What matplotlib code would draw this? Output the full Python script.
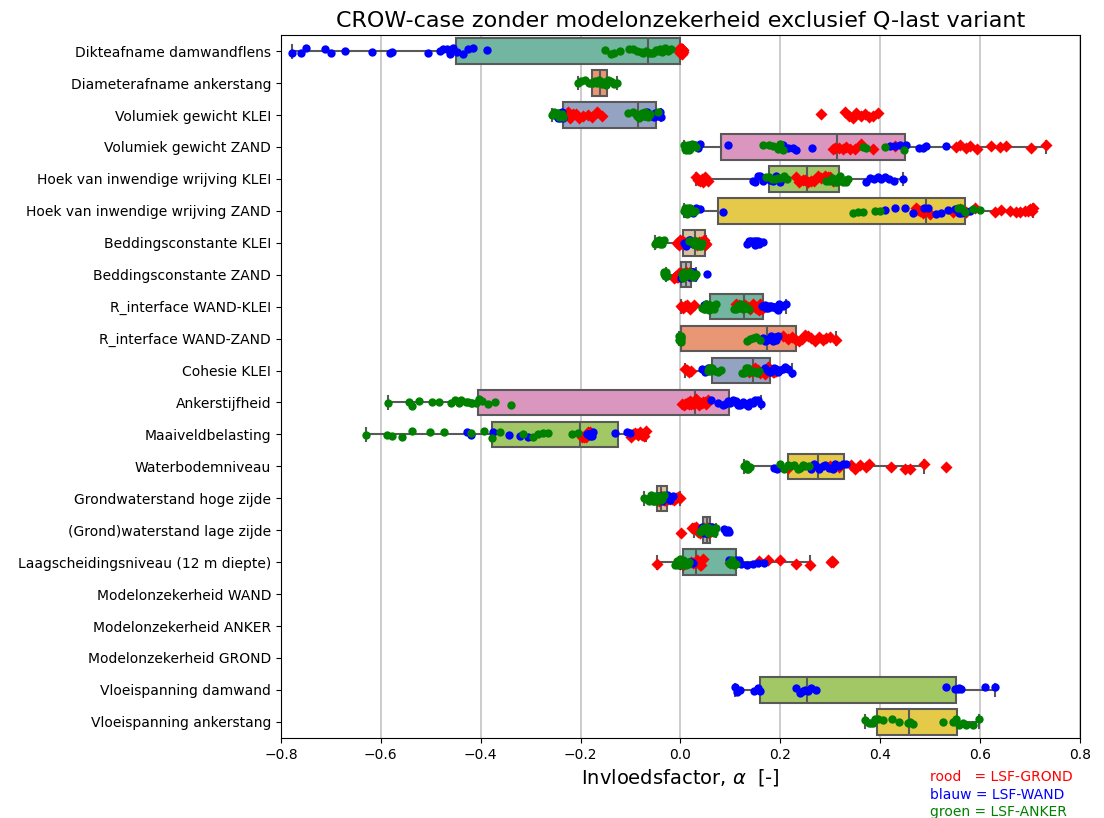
import colorsys

import numpy as np
import matplotlib
matplotlib.use("Agg")
import matplotlib.pyplot as plt
from matplotlib.colors import to_rgb

# parameters, top to bottom
parameters = [
    "Dikteafname damwandflens",
    "Diameterafname ankerstang",
    "Volumiek gewicht KLEI",
    "Volumiek gewicht ZAND",
    "Hoek van inwendige wrijving KLEI",
    "Hoek van inwendige wrijving ZAND",
    "Beddingsconstante KLEI",
    "Beddingsconstante ZAND",
    "R_interface WAND-KLEI",
    "R_interface WAND-ZAND",
    "Cohesie KLEI",
    "Ankerstijfheid",
    "Maaiveldbelasting",
    "Waterbodemniveau",
    "Grondwaterstand hoge zijde",
    "(Grond)waterstand lage zijde",
    "Laagscheidingsniveau (12 m diepte)",
    "Modelonzekerheid WAND",
    "Modelonzekerheid ANKER",
    "Modelonzekerheid GROND",
    "Vloeispanning damwand",
    "Vloeispanning ankerstang",
]

# influence factors per parameter for each limit state function
alpha_grond = [
    [0.0, 0.001, 0.0, 0.002, 0.003, 0.0, 0.001, 0.004, 0.002, 0.0, 0.005, 0.001, 0.003, 0.0, 0.002, 0.004, 0.001, 0.006, 0.0, 0.003],
    [],
    [-0.226, -0.222, -0.216, -0.210, -0.204, -0.196, -0.186, -0.178, -0.168, -0.158, 0.282, 0.330, 0.338, 0.346, 0.352, 0.362, 0.370, 0.378, 0.386, 0.395],
    [0.305, 0.310, 0.318, 0.325, 0.332, 0.340, 0.350, 0.362, 0.385, 0.430, 0.552, 0.560, 0.572, 0.580, 0.593, 0.622, 0.640, 0.652, 0.703, 0.733],
    [0.032, 0.036, 0.040, 0.043, 0.046, 0.050, 0.055, 0.232, 0.238, 0.245, 0.250, 0.255, 0.262, 0.268, 0.275, 0.282, 0.290, 0.296, 0.300, 0.305],
    [0.472, 0.476, 0.480, 0.485, 0.500, 0.545, 0.560, 0.565, 0.572, 0.590, 0.630, 0.642, 0.660, 0.672, 0.680, 0.690, 0.695, 0.700, 0.705, 0.707],
    [-0.006, -0.004, -0.002, 0.0, 0.0, 0.002, 0.004, 0.006, 0.008, 0.030, 0.034, 0.038, 0.042, 0.045, 0.046, 0.048, 0.048, 0.050, 0.050, 0.052],
    [-0.012, -0.010, -0.008, -0.006, -0.004, -0.002, 0.0, 0.0, 0.002, 0.004, 0.006, 0.008, 0.010, 0.012, 0.014, 0.016, 0.018, 0.020, 0.022, 0.024],
    [0.002, 0.006, 0.010, 0.014, 0.020, 0.028, 0.112, 0.118, 0.125, 0.130, 0.135, 0.140, 0.145, 0.148, 0.152, 0.155, 0.158, 0.160, 0.162, 0.164],
    [0.206, 0.215, 0.224, 0.232, 0.238, 0.244, 0.250, 0.256, 0.262, 0.270, 0.278, 0.285, 0.292, 0.300, 0.312],
    [0.010, 0.014, 0.018, 0.022, 0.138, 0.144, 0.150, 0.155, 0.160, 0.165, 0.170, 0.175, 0.180, 0.185, 0.188, 0.192],
    [0.004, 0.008, 0.010, 0.013, 0.016, 0.018, 0.020, 0.022, 0.025, 0.028, 0.030, 0.032, 0.035, 0.038, 0.040, 0.043, 0.046, 0.049, 0.052, 0.055],
    [-0.198, -0.194, -0.190, -0.186, -0.182, -0.100, -0.096, -0.092, -0.088, -0.085, -0.082, -0.079, -0.076, -0.072, -0.068],
    [0.215, 0.300, 0.310, 0.318, 0.342, 0.350, 0.360, 0.372, 0.378, 0.422, 0.450, 0.460, 0.488, 0.532],
    [-0.042, -0.038, -0.035, -0.032, -0.030, -0.028, -0.026, -0.024, -0.022, -0.020, -0.016, -0.012, -0.008, -0.004, 0.0],
    [0.002, 0.024, 0.028, 0.032, 0.036, 0.040, 0.044, 0.046, 0.048, 0.050, 0.052, 0.054, 0.056, 0.058, 0.060],
    [-0.046, 0.0, 0.005, 0.022, 0.026, 0.030, 0.034, 0.038, 0.040, 0.042, 0.046, 0.100, 0.158, 0.176, 0.200, 0.232, 0.260, 0.302, 0.304, 0.306],
    [],
    [],
    [],
    [],
    [],
]

alpha_wand = [
    [-0.777, -0.760, -0.750, -0.712, -0.700, -0.672, -0.618, -0.582, -0.578, -0.505, -0.482, -0.475, -0.468, -0.462, -0.456, -0.448, -0.436, -0.425, -0.415, -0.388],
    [],
    [-0.256, -0.252, -0.249, -0.246, -0.244, -0.241, -0.238, -0.236, -0.075, -0.070, -0.066, -0.062, -0.058, -0.054, -0.052, -0.050, -0.047, -0.044, -0.041, -0.038],
    [0.010, 0.020, 0.030, 0.035, 0.040, 0.095, 0.198, 0.205, 0.215, 0.225, 0.232, 0.264, 0.420, 0.430, 0.440, 0.452, 0.477, 0.485, 0.492, 0.532],
    [0.145, 0.150, 0.155, 0.160, 0.165, 0.170, 0.175, 0.180, 0.186, 0.192, 0.200, 0.372, 0.380, 0.388, 0.395, 0.402, 0.410, 0.418, 0.428, 0.445],
    [0.012, 0.018, 0.025, 0.032, 0.040, 0.086, 0.410, 0.430, 0.450, 0.465, 0.488, 0.495, 0.512, 0.522, 0.535, 0.550, 0.558, 0.562, 0.568, 0.580],
    [0.008, 0.012, 0.014, 0.018, 0.020, 0.024, 0.026, 0.030, 0.134, 0.138, 0.140, 0.142, 0.145, 0.148, 0.150, 0.152, 0.155, 0.158, 0.160, 0.165],
    [0.002, 0.004, 0.006, 0.008, 0.010, 0.012, 0.014, 0.016, 0.018, 0.020, 0.021, 0.022, 0.023, 0.024, 0.025, 0.026, 0.027, 0.028, 0.030, 0.054],
    [0.048, 0.052, 0.056, 0.060, 0.164, 0.168, 0.170, 0.172, 0.175, 0.178, 0.180, 0.182, 0.185, 0.188, 0.190, 0.193, 0.195, 0.198, 0.205, 0.212],
    [0.165, 0.170, 0.174, 0.178, 0.182, 0.185, 0.188, 0.190, 0.192, 0.195],
    [0.044, 0.050, 0.056, 0.170, 0.175, 0.180, 0.184, 0.188, 0.192, 0.196, 0.200, 0.205, 0.210, 0.216, 0.224],
    [0.062, 0.075, 0.085, 0.090, 0.095, 0.100, 0.105, 0.110, 0.112, 0.115, 0.120, 0.122, 0.125, 0.130, 0.135, 0.140, 0.145, 0.150, 0.155, 0.162],
    [-0.427, -0.419, -0.376, -0.344, -0.322, -0.306, -0.188, -0.186, -0.184, -0.182, -0.178, -0.175, -0.132, -0.108, -0.102],
    [0.188, 0.194, 0.262, 0.268, 0.272, 0.278, 0.285, 0.290, 0.298, 0.305, 0.310, 0.318, 0.325, 0.332],
    [-0.060, -0.055, -0.050, -0.047, -0.044, -0.042, -0.040, -0.038, -0.036, -0.034, -0.032, -0.030, -0.026, -0.020, -0.014],
    [0.044, 0.048, 0.050, 0.052, 0.054, 0.056, 0.058, 0.060, 0.062, 0.063, 0.065, 0.088, 0.092, 0.095, 0.098],
    [-0.005, 0.0, 0.004, 0.008, 0.012, 0.016, 0.018, 0.022, 0.025, 0.098, 0.100, 0.104, 0.108, 0.112, 0.118, 0.122, 0.134, 0.145, 0.155, 0.168],
    [],
    [],
    [],
    [0.110, 0.114, 0.120, 0.148, 0.155, 0.160, 0.232, 0.240, 0.245, 0.250, 0.255, 0.262, 0.272, 0.532, 0.550, 0.555, 0.558, 0.562, 0.610, 0.630],
    [],
]

alpha_anker = [
    [-0.152, -0.140, -0.134, -0.122, -0.104, -0.095, -0.088, -0.080, -0.074, -0.068, -0.063, -0.058, -0.054, -0.049, -0.045, -0.041, -0.036, -0.030, -0.024, -0.018],
    [-0.205, -0.200, -0.192, -0.184, -0.179, -0.176, -0.172, -0.168, -0.165, -0.163, -0.160, -0.158, -0.155, -0.152, -0.149, -0.145, -0.141, -0.138, -0.134, -0.128],
    [-0.258, -0.254, -0.250, -0.247, -0.244, -0.241, -0.238, -0.235, -0.105, -0.096, -0.090, -0.087, -0.084, -0.081, -0.078, -0.075, -0.070, -0.065, -0.060, -0.045],
    [0.008, 0.010, 0.012, 0.015, 0.017, 0.019, 0.021, 0.024, 0.027, 0.031, 0.165, 0.178, 0.186, 0.195, 0.200, 0.206, 0.366, 0.372, 0.410, 0.448],
    [0.172, 0.178, 0.184, 0.190, 0.196, 0.202, 0.208, 0.214, 0.292, 0.298, 0.304, 0.309, 0.313, 0.316, 0.320, 0.323, 0.326, 0.329, 0.332, 0.336],
    [0.008, 0.010, 0.012, 0.014, 0.016, 0.018, 0.020, 0.022, 0.025, 0.030, 0.345, 0.355, 0.365, 0.390, 0.400, 0.555, 0.562, 0.570, 0.585, 0.600],
    [-0.050, -0.048, -0.046, -0.044, -0.042, -0.040, -0.036, -0.032, 0.018, 0.022, 0.025, 0.028, 0.030, 0.032, 0.034, 0.036, 0.038, 0.040, 0.042, 0.044],
    [-0.033, -0.032, -0.031, -0.030, -0.029, -0.028, -0.026, 0.004, 0.006, 0.008, 0.010, 0.012, 0.014, 0.016, 0.018, 0.020, 0.022, 0.025, 0.028, 0.032],
    [0.044, 0.048, 0.050, 0.052, 0.055, 0.058, 0.060, 0.062, 0.065, 0.068, 0.072, 0.108, 0.112, 0.115, 0.118, 0.122, 0.126, 0.130, 0.134, 0.138],
    [-0.002, 0.0, 0.0, 0.001, 0.0, -0.001, 0.0, 0.002, 0.0, -0.001, 0.001, 0.0, 0.0, 0.002, -0.002, 0.134, 0.140, 0.146, 0.152, 0.160],
    [0.056, 0.057, 0.058, 0.059, 0.060, 0.061, 0.064, 0.070, 0.076, 0.082, 0.128, 0.132, 0.136, 0.140, 0.145, 0.150, 0.154, 0.158, 0.124, 0.143],
    [-0.585, -0.543, -0.538, -0.523, -0.497, -0.483, -0.460, -0.452, -0.444, -0.439, -0.430, -0.426, -0.420, -0.418, -0.410, -0.404, -0.398, -0.385, -0.371, -0.340],
    [-0.629, -0.588, -0.577, -0.557, -0.537, -0.501, -0.473, -0.419, -0.393, -0.378, -0.362, -0.316, -0.296, -0.286, -0.276, -0.266, -0.218, -0.205],
    [0.128, 0.130, 0.131, 0.133, 0.136, 0.140, 0.200, 0.208, 0.215, 0.220, 0.228, 0.235, 0.240, 0.245, 0.250, 0.258],
    [-0.072, -0.068, -0.062, -0.058, -0.055, -0.052, -0.050, -0.048, -0.046, -0.044, -0.042, -0.040, -0.038, -0.036, -0.032],
    [0.040, 0.044, 0.046, 0.048, 0.050, 0.052, 0.053, 0.055, 0.056, 0.058, 0.060, 0.062, 0.064, 0.068, 0.072],
    [-0.010, -0.006, -0.004, -0.002, 0.0, 0.0, 0.0, 0.002, 0.004, 0.006, 0.008, 0.010, 0.012, 0.015, 0.018, 0.098, 0.100, 0.104, 0.108, 0.112],
    [],
    [],
    [],
    [],
    [0.370, 0.378, 0.382, 0.386, 0.390, 0.395, 0.405, 0.424, 0.437, 0.455, 0.460, 0.465, 0.525, 0.545, 0.552, 0.558, 0.565, 0.572, 0.585, 0.597],
]

x_ticks = [-0.8, -0.6, -0.4, -0.2, 0.0, 0.2, 0.4, 0.6, 0.8]

# Set2, desaturated like seaborn boxes
set2 = ["#66c2a5", "#fc8d62", "#8da0cb", "#e78ac3", "#a6d854", "#ffd92f", "#e5c494", "#b3b3b3"]


def desaturate(color, prop=0.75):
    h, l, s = colorsys.rgb_to_hls(*to_rgb(color))
    return colorsys.hls_to_rgb(h, l, s * prop)


box_colors = [desaturate(set2[i % len(set2)]) for i in range(len(parameters))]
lum = min(colorsys.rgb_to_hls(*c)[1] for c in box_colors) * 0.6
line_color = (lum, lum, lum)

fig = plt.figure(figsize=(11.04, 8.18), dpi=100)
ax = fig.add_axes([0.2545, 0.098, 0.7237, 0.859])

pos = np.arange(len(parameters))
all_values = [alpha_grond[i] + alpha_wand[i] + alpha_anker[i] for i in pos]

bp = ax.boxplot(all_values, positions=pos, orientation="horizontal", widths=0.8,
                patch_artist=True, showfliers=False, whis=1.5,
                boxprops=dict(edgecolor=line_color, linewidth=1.5),
                whiskerprops=dict(color=line_color, linewidth=1.5),
                capprops=dict(color=line_color, linewidth=1.5),
                medianprops=dict(color=line_color, linewidth=1.5))
for patch, c in zip(bp["boxes"], box_colors):
    patch.set_facecolor(c)

# strip points with a little vertical jitter
rng = np.random.default_rng(3)
for values, color, marker, size in [(alpha_grond, "red", "D", 38),
                                    (alpha_wand, "blue", "o", 36),
                                    (alpha_anker, "green", "o", 36)]:
    for i, v in enumerate(values):
        if not v:
            continue
        y = i + rng.uniform(-0.1, 0.1, len(v))
        ax.scatter(v, y, s=size, c=color, marker=marker, linewidths=0, zorder=3)

ax.set_yticks(pos)
ax.set_yticklabels(parameters)
ax.set_ylim(len(parameters) - 0.5, -0.5)
ax.set_xlim(-0.8, 0.8)
ax.set_xticks(x_ticks)
ax.xaxis.grid(True, color="#c4c4c4", linewidth=1.2)
ax.set_axisbelow(True)

ax.set_title("CROW-case zonder modelonzekerheid exclusief Q-last variant", fontsize=16)
ax.set_xlabel(r"Invloedsfactor, $\alpha$  [-]", fontsize=14)

fig.text(0.842, 0.050, "rood   = LSF-GROND", color="red", fontsize=10, va="center")
fig.text(0.842, 0.028, "blauw = LSF-WAND", color="blue", fontsize=10, va="center")
fig.text(0.842, 0.007, "groen = LSF-ANKER", color="green", fontsize=10, va="center")

fig.savefig("out.png", dpi=100)
